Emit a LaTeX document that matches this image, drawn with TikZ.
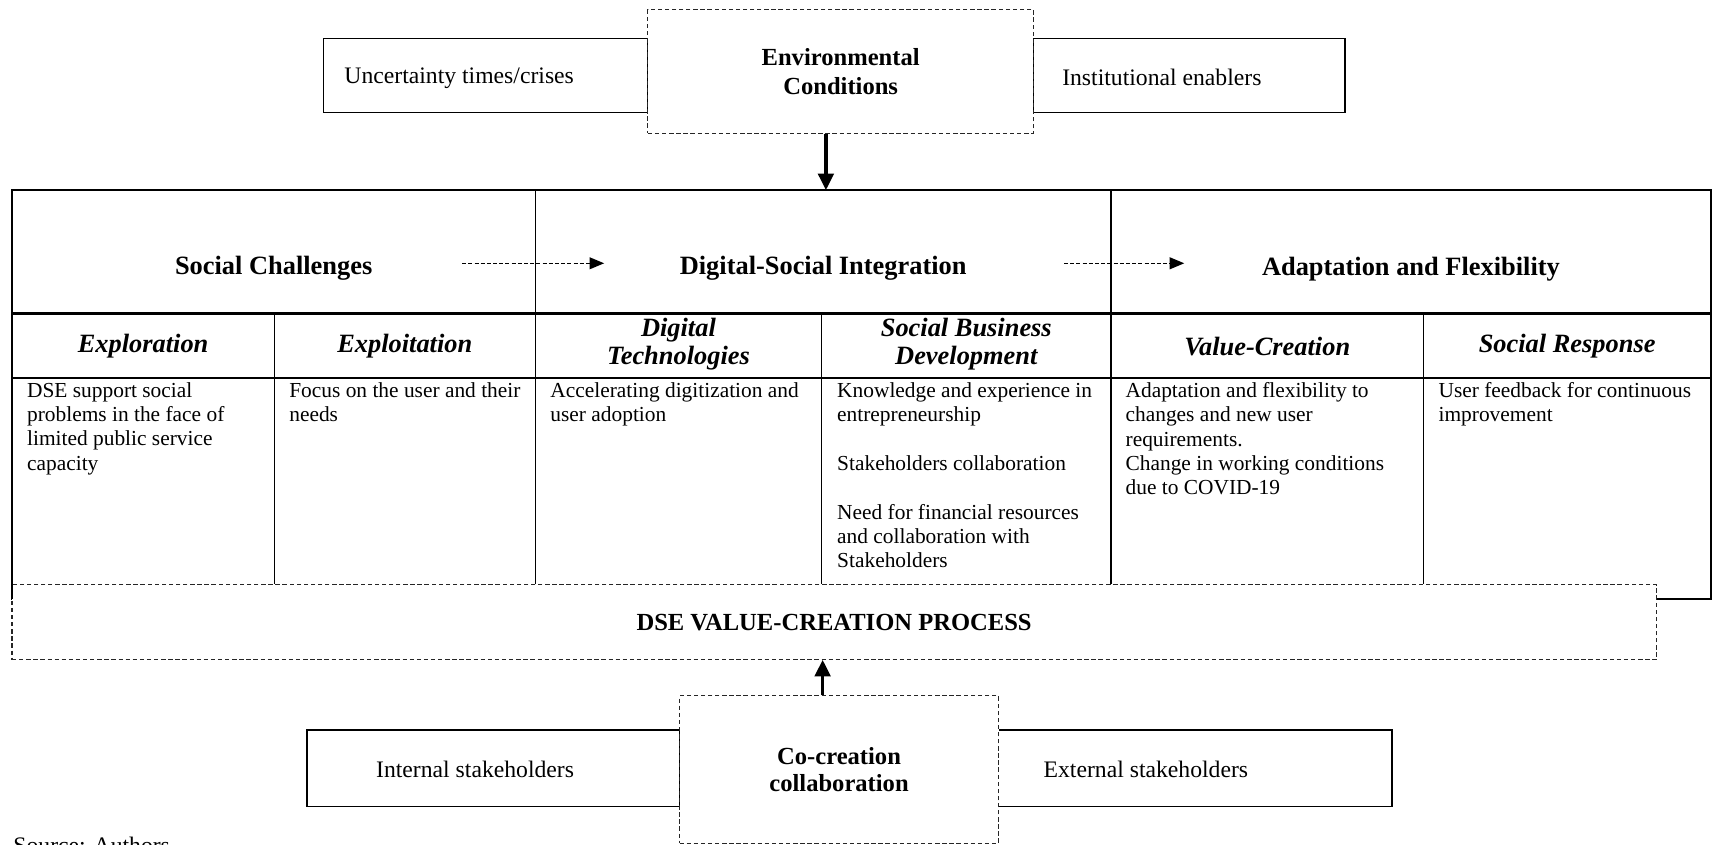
\documentclass[tikz,border=0pt]{standalone}
\usepackage{fontspec}
\setmainfont{Liberation Serif}
\usetikzlibrary{arrows.meta}
\begin{document}
\begin{tikzpicture}[x=0.6pt,y=-0.6pt,
  every node/.style={inner sep=0pt, font=\fontsize{13}{13.4}\selectfont},
  sbox/.style={draw, line width=0.8pt, fill=white},
  dbox/.style={draw=black!85, line width=0.6pt, dash pattern=on 2.4pt off 1.5pt, fill=white},
  tline/.style={line width=1.2pt},
  vline/.style={line width=0.7pt},
  hdr/.style={font=\fontsize{14.5}{15}\selectfont\bfseries},
  sub/.style={font=\fontsize{14.5}{15}\selectfont\bfseries\itshape, align=center},
  bodytxt/.style={anchor=north west, align=left, font=\fontsize{11.75}{13.4}\selectfont},
  mainarrow/.style={line width=1.8pt, -{Triangle[length=9pt,width=8.5pt]}},
  dasharrow/.style={line width=0.7pt, dash pattern=on 2.2pt off 1.2pt, -{Triangle[length=8pt,width=6.5pt]}},
]
\useasboundingbox (0,0) rectangle (1568,773);

% ---- top: environmental conditions
\node[sbox, minimum width=297*0.6pt, minimum height=68*0.6pt] (unc) at (444.5,69) {};
\node[sbox, minimum width=285*0.6pt, minimum height=68*0.6pt] (inst) at (1088.5,69) {};
\node[dbox, minimum width=353*0.6pt, minimum height=113*0.6pt, align=center,
      font=\fontsize{13.5}{15.6}\selectfont\bfseries] (env) at (769.5,65.5) {Environmental\\Conditions};
\node[anchor=west] (unct) at (315,72) {Uncertainty times/crises};
\node[anchor=west] (instt) at (972,71) {Institutional enablers};

\coordinate (tabtop) at (756,174);
\draw[mainarrow] (env.south -| tabtop) -- (tabtop);

% ---- table
\draw[tline] (11,174) rectangle (1566,548);
\draw[tline] (11,287) -- (1566,287);
\draw[tline] (11,346) -- (1566,346);
\draw[vline] (490,174) -- (490,548);
\draw[vline] (1017,174) -- (1017,548);
\draw[vline] (251,287) -- (251,548);
\draw[vline] (752,287) -- (752,548);
\draw[vline] (1303,287) -- (1303,548);

\node[hdr] (sc) at (250.5,246) {Social Challenges};
\node[hdr] (dsi) at (753.5,246) {Digital-Social Integration};
\node[hdr] (af) at (1291.5,246) {Adaptation and Flexibility};
\coordinate (d1s) at (423,241);
\coordinate (d1e) at (553,241);
\coordinate (d2s) at (974,241);
\coordinate (d2e) at (1084,241);
\draw[dasharrow] (d1s) -- (d1e);
\draw[dasharrow] (d2s) -- (d2e);

\node[sub] (expl) at (131,317) {Exploration};
\node[sub] (expt) at (370.5,317) {Exploitation};
\node[sub] (dt) at (621,315) {Digital\\Technologies};
\node[sub] (sbd) at (884.5,315) {Social Business\\Development};
\node[sub] (vc) at (1160,317) {Value-Creation};
\node[sub] (sr) at (1434.5,317) {Social Response};

\node[bodytxt] (b1) at (24.5,349.5) {DSE support social\\problems in the face of\\limited public service\\capacity};
\node[bodytxt] (b2) at (264.5,349.5) {Focus on the user and their\\needs};
\node[bodytxt] (b3) at (503.5,349.5) {Accelerating digitization and\\user adoption};
\node[bodytxt] (b4) at (766,349.5) {Knowledge and experience in\\entrepreneurship\\[13.4pt]Stakeholders collaboration\\[13.4pt]Need for financial resources\\and collaboration with\\Stakeholders};
\node[bodytxt] (b5) at (1030,349.5) {Adaptation and flexibility to\\changes and new user\\requirements.\\Change in working conditions\\due to COVID-19};
\node[bodytxt] (b6) at (1316.5,349.5) {User feedback for continuous\\improvement};

% ---- DSE value creation process
\node[dbox, minimum width=1505*0.6pt, minimum height=69*0.6pt,
      font=\fontsize{13.5}{15}\selectfont\bfseries] (dse) at (763.5,569.5) {DSE VALUE-CREATION PROCESS};
\draw[tline] (11,535) -- (11,548);

% ---- bottom: co-creation
\node[sbox, minimum width=341*0.6pt, minimum height=70*0.6pt] (int) at (451.5,703) {};
\node[sbox, minimum width=360*0.6pt, minimum height=70*0.6pt] (ext) at (1094,703) {};
\node[dbox, minimum width=292*0.6pt, minimum height=135*0.6pt, align=center,
      font=\fontsize{13.5}{15}\selectfont\bfseries] (co) at (768,704.5) {Co-creation\\collaboration};
\node[anchor=west] (intt) at (344,704) {Internal stakeholders};
\node[anchor=west] (extt) at (955,704) {External stakeholders};

\coordinate (dsebot) at (753,604);
\draw[mainarrow] (co.north -| dsebot) -- (dsebot);

\node[anchor=north west] (src) at (12,766) {Source: Authors};
\end{tikzpicture}
\end{document}
